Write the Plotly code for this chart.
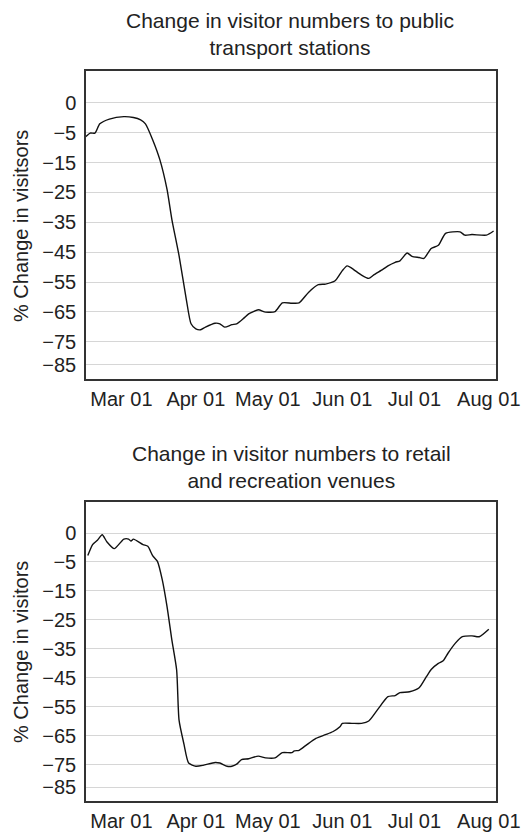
import plotly.graph_objects as go

# values (2020), % change vs. baseline
transport_dates = [
    "2020-02-15", "2020-02-17", "2020-02-19", "2020-02-21", "2020-02-25",
    "2020-03-02", "2020-03-06", "2020-03-09", "2020-03-11", "2020-03-14",
    "2020-03-17", "2020-03-20", "2020-03-22", "2020-03-25", "2020-03-28",
    "2020-03-30", "2020-04-01", "2020-04-03", "2020-04-05", "2020-04-09",
    "2020-04-11", "2020-04-13", "2020-04-16", "2020-04-18", "2020-04-21",
    "2020-04-23", "2020-04-27", "2020-04-30", "2020-05-04", "2020-05-07",
    "2020-05-11", "2020-05-14", "2020-05-18", "2020-05-22", "2020-05-25",
    "2020-05-29", "2020-06-01", "2020-06-03", "2020-06-05", "2020-06-09",
    "2020-06-12", "2020-06-14", "2020-06-18", "2020-06-20", "2020-06-23",
    "2020-06-25", "2020-06-28", "2020-06-30", "2020-07-03", "2020-07-05",
    "2020-07-08", "2020-07-11", "2020-07-14", "2020-07-20", "2020-07-22",
    "2020-07-25", "2020-07-31", "2020-08-03",
]
transport_values = [
    -6.4, -5.1, -5.1, -2.0, -0.4,
    0.4, 0.1, -0.7, -2.0, -7.3,
    -14.0, -24.0, -34.0, -46.2, -60.7,
    -69.0, -70.7, -71.0, -70.1, -68.8,
    -69.0, -70.1, -69.3, -69.0, -67.1,
    -65.7, -64.3, -65.1, -64.9, -62.0,
    -62.1, -62.0, -58.4, -55.9, -55.7,
    -54.6, -51.2, -49.6, -50.4, -52.7,
    -53.8, -52.7, -50.7, -49.6, -48.4,
    -47.9, -45.3, -46.4, -46.8, -47.1,
    -43.8, -42.7, -38.7, -38.2, -39.3,
    -39.1, -39.3, -37.9,
]

retail_dates = [
    "2020-02-16", "2020-02-18", "2020-02-20", "2020-02-22", "2020-02-24",
    "2020-02-27", "2020-03-02", "2020-03-04", "2020-03-05", "2020-03-06",
    "2020-03-10", "2020-03-12", "2020-03-14", "2020-03-16", "2020-03-18",
    "2020-03-20", "2020-03-22", "2020-03-24", "2020-03-25", "2020-03-27",
    "2020-03-29", "2020-04-01", "2020-04-04", "2020-04-09", "2020-04-11",
    "2020-04-14", "2020-04-16", "2020-04-18", "2020-04-20", "2020-04-23",
    "2020-04-27", "2020-04-30", "2020-05-04", "2020-05-07", "2020-05-11",
    "2020-05-12", "2020-05-14", "2020-05-17", "2020-05-21", "2020-05-25",
    "2020-05-28", "2020-05-31", "2020-06-01", "2020-06-05", "2020-06-09",
    "2020-06-12", "2020-06-16", "2020-06-20", "2020-06-23", "2020-06-25",
    "2020-06-29", "2020-07-03", "2020-07-06", "2020-07-08", "2020-07-11",
    "2020-07-13", "2020-07-15", "2020-07-18", "2020-07-21", "2020-07-25",
    "2020-07-28", "2020-08-01",
]
retail_values = [
    -2.8, 1.0, 2.5, 4.4, 1.9,
    -0.4, 2.9, 2.9, 2.2, 2.9,
    1.0, 0.4, -2.8, -4.8, -11.1,
    -20.4, -31.9, -42.3, -59.6, -67.7,
    -74.4, -75.5, -75.2, -74.2, -74.4,
    -75.5, -75.5, -74.8, -73.2, -72.9,
    -72.0, -72.6, -72.6, -70.8, -70.8,
    -70.2, -70.0, -68.2, -65.9, -64.6,
    -63.6, -61.9, -60.7, -60.7, -60.7,
    -59.9, -55.6, -51.5, -51.1, -50.1,
    -49.8, -48.4, -44.6, -42.1, -40.0,
    -39.1, -36.5, -33.1, -30.8, -30.5,
    -30.8, -28.2,
]

# y tick labels as printed (spacing on the original is not uniform)
y_tick_pos = [5, -5, -15, -25, -35, -45, -55, -65, -75, -82.7]
y_tick_text = ["0", "−5", "−15", "−25", "−35", "−45", "−55", "−65", "−75", "−85"]

x_tick_dates = ["2020-03-01", "2020-04-01", "2020-05-01", "2020-06-01", "2020-07-01", "2020-08-01"]
x_tick_text = ["Mar 01", "Apr 01", "May 01", "Jun 01", "Jul 01", "Aug 01"]

FONT = "Liberation Sans, Arial, sans-serif"
INK = "#222222"

# the page body has an 8px margin, so the figure is drawn 8px smaller
# and all pixel positions below (taken from the 531x832 picture) are shifted
OFF = 8
W, H = 531 - OFF, 832 - OFF


def fx(px):
    return (px - OFF) / W


def fy(py):
    return 1 - (py - OFF) / H


fig = go.Figure()
fig.add_trace(go.Scatter(x=transport_dates, y=transport_values, mode="lines",
                         line=dict(color="#111111", width=1.4, shape="spline", smoothing=0.6),
                         xaxis="x", yaxis="y", showlegend=False))
fig.add_trace(go.Scatter(x=retail_dates, y=retail_values, mode="lines",
                         line=dict(color="#111111", width=1.4, shape="spline", smoothing=0.6),
                         xaxis="x2", yaxis="y2", showlegend=False))


def xax(anchor):
    return dict(
        domain=[fx(86), fx(496)],
        range=["2020-02-15 06:00", "2020-08-04"],
        tickvals=x_tick_dates, ticktext=x_tick_text,
        showgrid=False, zeroline=False,
        showline=True, mirror=True, linecolor="#333333", linewidth=1.5,
        ticks="", ticklabelstandoff=1,
        tickfont=dict(size=20, color=INK, family=FONT),
        anchor=anchor, automargin=False,
    )


def yax(top, bottom, anchor):
    return dict(
        domain=[fy(bottom), fy(top)],
        range=[-87.5, 15.7],
        tickvals=y_tick_pos, ticktext=y_tick_text,
        showgrid=True, gridcolor="#d6d6d6", gridwidth=1.2,
        zeroline=False,
        showline=True, mirror=True, linecolor="#333333", linewidth=1.5,
        ticks="", ticklabelstandoff=4,
        tickfont=dict(size=20, color=INK, family=FONT),
        anchor=anchor, automargin=False,
    )


fig.update_layout(
    width=W, height=H,
    margin=dict(l=0, r=0, t=0, b=0),
    paper_bgcolor="white", plot_bgcolor="white",
    font=dict(family=FONT, color=INK),
    xaxis=xax("y"),
    yaxis=yax(71, 379, "x"),
    xaxis2=xax("y2"),
    yaxis2=yax(502, 801, "x2"),
)

annotations = [
    dict(text="Change in visitor numbers to public<br>transport stations",
         x=fx(290), y=fy(34), font=dict(size=21, color=INK, family=FONT)),
    dict(text="Change in visitor numbers to retail<br>and recreation venues",
         x=fx(291), y=fy(467), font=dict(size=21, color=INK, family=FONT)),
    dict(text="% Change in visitsors", x=fx(21), y=fy(226), textangle=-90,
         font=dict(size=20, color=INK, family=FONT)),
    dict(text="% Change in visitors", x=fx(21), y=fy(652), textangle=-90,
         font=dict(size=20, color=INK, family=FONT)),
]
for a in annotations:
    fig.add_annotation(xref="paper", yref="paper", showarrow=False,
                       xanchor="center", yanchor="middle", **a)

fig.write_html("out.html")
